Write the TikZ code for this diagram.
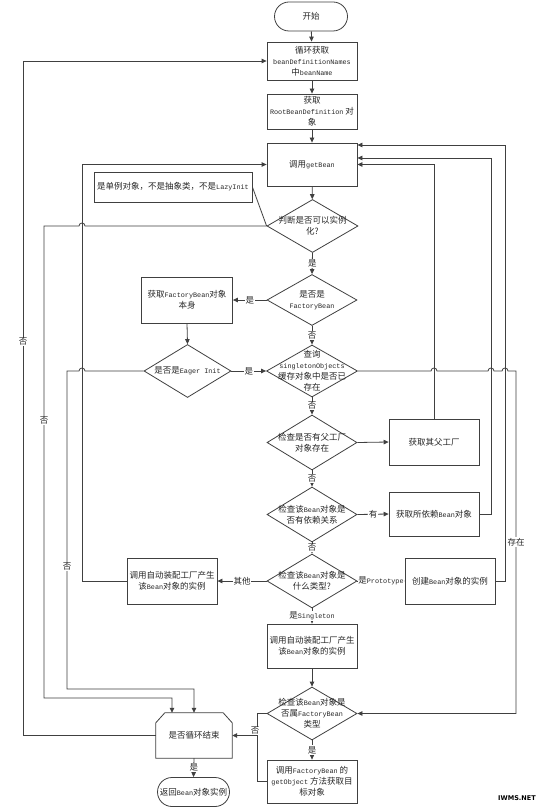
\documentclass[tikz,border=0pt]{standalone}
\usepackage{fontspec}
\setmainfont{Noto Sans CJK SC}
\newfontfamily\monofam{Liberation Mono}
\newfontfamily\wmfont{DejaVu Sans}
\usetikzlibrary{shapes.geometric,shapes.misc,arrows.meta}
\newcommand\latn[1]{{\monofam\fontsize{6.8pt}{11pt}\selectfont #1}}
\begin{document}
\begin{tikzpicture}[x=1pt,y=-1pt,
  every node/.style={font=\fontsize{8.5pt}{11pt}\selectfont, text=black!85},
  line/.style={draw=black!75, line width=0.8pt},
  arr/.style={line, -{Triangle[length=5pt,width=4.5pt]}},
  box/.style={rectangle, draw=black!75, line width=0.8pt, minimum width=90pt, align=center, inner sep=1pt},
  term/.style={rounded rectangle, draw=black!75, line width=0.8pt, minimum width=75pt, minimum height=29pt, inner sep=1pt},
  dia/.style={diamond, draw=black!75, line width=0.8pt, minimum width=90pt, minimum height=53pt, inner sep=0pt},
  txt/.style={align=center, inner sep=0pt},
  lab/.style={fill=white, inner sep=0.8pt}
]
\fill[white] (0,0) rectangle (550,810);
\useasboundingbox (0,0) rectangle (550,810);

% main column
\node[term] (start) at (311,16.5) {开始};
\node[box, minimum height=38pt] (b1) at (312,61) {循环获取\\\latn{beanDefinitionNames}\\中\latn{beanName}};
\node[box, minimum height=35pt] (b2) at (312,111.5) {获取\\\latn{RootBeanDefinition} 对\\象};
\node[box, minimum height=43pt] (gb) at (312,164.5) {调用\latn{getBean}};
\node[rectangle, draw=black!75, line width=0.8pt, minimum width=158pt, minimum height=30pt, inner sep=1pt] (note) at (173,187) {是单例对象，不是抽象类，不是\latn{LazyInit}};
\node[dia, minimum width=91pt, label={[txt]center:{判断是否可以实例\\化?}}] (d1) at (312.5,226) {};
\node[dia, minimum height=51pt, label={[txt]center:{是否是\\\latn{FactoryBean}}}] (d2) at (312,300) {};
\node[box, minimum width=91pt, minimum height=46pt] (fb) at (187,300) {获取\latn{FactoryBean}对象\\本身};
\node[dia, minimum width=87pt, label={[txt]center:{是否是\latn{Eager Init}}}] (d3) at (187.5,371) {};
\node[dia, minimum width=91pt, minimum height=52pt, label={[txt]center:{查询\\\latn{singletonObjects}\\缓存对象中是否已\\存在}}] (d4) at (312,371) {};
\node[dia, minimum height=55pt, label={[txt]center:{检查是否有父工厂\\对象存在}}] (d5) at (312,442.5) {};
\node[box, minimum height=46pt] (pf) at (434,442) {获取其父工厂};
\node[dia, minimum height=55pt, label={[txt]center:{检查该\latn{Bean}对象是\\否有依赖关系}}] (d6) at (312,514.5) {};
\node[box, minimum height=44pt] (dep) at (434,514) {获取所依赖\latn{Bean}对象};
\node[dia, minimum height=54pt, label={[txt]center:{检查该\latn{Bean}对象是\\什么类型?}}] (d7) at (312,581) {};
\node[box, minimum height=46pt] (other) at (172,581) {调用自动装配工厂产生\\该\latn{Bean}对象的实例};
\node[box, minimum height=46pt] (proto) at (450,581) {创建\latn{Bean}对象的实例};
\node[box, minimum height=44pt] (single) at (312,646) {调用自动装配工厂产生\\该\latn{Bean}对象的实例};
\node[dia, label={[txt]center:{检查该\latn{Bean}对象是\\否属\latn{FactoryBean}\\类型}}] (d8) at (312,713.5) {};
\node[box, minimum height=43pt] (go) at (312,781.5) {调用\latn{FactoryBean} 的\\\latn{getObject} 方法获取目\\标对象};
\node[minimum width=76pt, minimum height=45pt, inner sep=0pt] (loop) at (194,735.5) {是否循环结束};
\draw[line] (loop.south west) -- ([yshift=-10pt]loop.north west) -- ([xshift=9pt]loop.north west)
  -- ([xshift=-9pt]loop.north east) -- ([yshift=-10pt]loop.north east) -- (loop.south east) -- cycle;
\node[term, minimum width=74pt] (ret) at (193.5,792) {返回\latn{Bean}对象实例};
\coordinate (j) at (257,735.5);

% straight connectors
\draw[arr] (start) -- (b1);
\draw[arr] (b1) -- (b2);
\draw[arr] (b2) -- (gb);
\draw[arr] (gb) -- (d1);
\draw[line] (note.east) -- (d1.west);
\draw[arr] (d1.south) -- node[lab]{是} (d2.north);
\draw[arr] (d2.west) -- node[lab]{是} (fb.east);
\draw[arr] (fb.south) -- (d3.north);
\draw[arr] (d3.east) -- node[lab]{是} (d4.west);
\draw[arr] (d2.south) -- node[lab]{否} (d4.north);
\draw[arr] (d4.south) -- node[lab]{否} (d5.north);
\draw[arr] (d5.east) -- (pf.west);
\draw[arr] (d5.south) -- node[lab]{否} (d6.north);
\draw[arr] (d6.east) -- node[lab]{有} (dep.west);
\draw[arr] (d6.south) -- node[lab]{否} (d7.north);
\draw[arr] (d7.west) -- node[lab]{其他} (other.east);
\draw[arr] (d7.east) -- node[lab, inner sep=0.3pt]{是\latn{Prototype}} (proto.west);
\draw[arr] (d7.south) -- node[lab]{是\latn{Singleton}} (single.north);
\draw[arr] (single) -- (d8);
\draw[arr] (d8.south) -- node[lab]{是} (go.north);
\draw[arr] (loop.south) -- node[lab]{是} (ret.north);

% back loops
\draw[arr] (d8.west) -- (257,713.5) -- (j) -- (loop.east);
\draw[line] (go.west) -| (j);
\node[lab] at (255,731) {否};

\draw[arr] (loop.west) -- (23,735.5) |- (b1.west);
\node[lab] at (23,342) {否};

\draw[arr] (d1.west) -- (85,226) arc[start angle=0,end angle=180,radius=3pt] -- (44,226) -- (44,698) -| ([xshift=-22pt]loop.north);
\node[lab] at (44,421) {否};

\draw[arr] (d3.west) -- (85,371) arc[start angle=0,end angle=180,radius=3pt] -- (67,371) -- (67,689) -| (loop.north);
\node[lab] at (67,567) {否};

\draw[arr] (other.west) -- (82,581) |- (gb.west);

\draw[arr] (pf.north) |- (gb.east);
\draw[arr] (dep.east) -- (491,514) |- ([yshift=6.5pt]gb.east);
\draw[arr] (proto.east) -- (505,581) |- ([yshift=19.5pt]gb.east);

\draw[arr] (d4.east) -- (431,371) arc[start angle=180,end angle=0,radius=3pt]
  -- (488,371) arc[start angle=180,end angle=0,radius=3pt]
  -- (502,371) arc[start angle=180,end angle=0,radius=3pt]
  -- (516,371) |- (d8.east);
\node[lab] at (516,542) {存在};

\node[font=\wmfont\bfseries\fontsize{6.5pt}{7pt}\selectfont, text=black, inner sep=0pt] (wm) at (517,798) {IWMS.NET};
\end{tikzpicture}
\end{document}
